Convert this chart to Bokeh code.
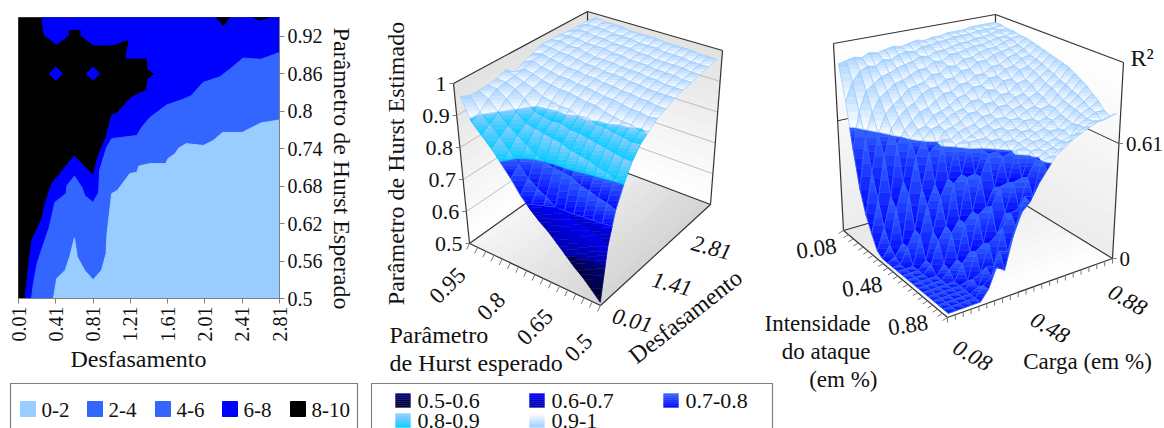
import math
from bokeh.plotting import figure
from bokeh.layouts import row, column
from bokeh.models import Range1d, FixedTicker, ColumnDataSource
from bokeh.core.properties import value
from bokeh.embed import file_html
from bokeh.resources import INLINE

FONT = "Liberation Serif"
H = 428

# ---------- contour data (lag, Hurst) ----------
band_labels = ["0-2", "2-4", "4-6", "6-8", "8-10"]
band_colors = ["#99ccff", "#3366ff", "#3366ff", "#0000ff", "#000000"]
x_ticks = [0.01, 0.41, 0.81, 1.21, 1.61, 2.01, 2.41, 2.81]
y_ticks = [0.5, 0.56, 0.62, 0.68, 0.74, 0.8, 0.86, 0.92]
lim_0_2 = [(.385,.5),(.42,.532),(.51,.545),(.56,.567),(.61,.597),(.64,.567),(.72,.545),(.81,.53),(.90,.545),(.95,.572),(.96,.604),(1.01,.668),(1.07,.673),(1.205,.70),(1.28,.702),(1.30,.712),(1.42,.716),(1.59,.716),(1.615,.724),(1.69,.732),(1.73,.741),(1.81,.748),(1.995,.745),(2.10,.753),(2.20,.766),(2.41,.766),(2.61,.781),(2.81,.786)]
lim_2_4 = [(.26,.5),(.33,.56),(.45,.62),(.61,.65),(.82,.6),(.92,.68),(1.05,.71),(1.4,.74),(1.8,.78),(2.2,.81),(2.81,.84)]
lim_4_6 = [(.15,.5),(.17,.524),(.21,.556),(.28,.588),(.34,.614),(.40,.654),(.52,.668),(.53,.681),(.61,.696),(.69,.678),(.72,.665),(.81,.654),(.87,.67),(.88,.705),(.955,.742),(1.01,.756),(1.28,.761),(1.33,.774),(1.42,.79),(1.60,.81),(1.775,.819),(1.865,.825),(1.99,.846),(2.17,.855),(2.275,.867),(2.42,.885),(2.61,.883),(2.81,.894)]
lim_6_8 = [(.08,.5),(.117,.551),(.153,.593),(.26,.628),(.295,.652),(.367,.684),(.438,.697),(.606,.728),(.688,.716),(.81,.697),(.884,.737),(.948,.758),(1.01,.794),(1.06,.796),(1.22,.822),(1.383,.834),(1.40,.851),(1.47,.86),(1.40,.867),(1.39,.885),(1.162,.885),(1.198,.915),(1.01,.906),(.813,.906),(.68,.921),(.68,.931),(.545,.931),(.545,.921),(.42,.907),(.285,.922),(.26,.95)]
ilhas_6_8 = [[(.34,.86),(.41,.871),(.48,.86),(.41,.849)], [(.74,.86),(.81,.871),(.88,.86),(.81,.849)]]
ilhas_8_10 = [[(2.13,.95),(2.21,.937),(2.27,.95)], [(2.53,.95),(2.6,.946),(2.7,.95)]]

# ---------- surface 1: Hurst estimado, row = H esperado (0.5..0.95), col = lag (0.01..2.81) ----------
hurst_z = [
 [.50,.65,.74,.80,.85,.885,.905,.925,.935,.95,.955,.96,.965,.97,.975],
 [.525,.665,.75,.805,.85,.88,.895,.92,.935,.95,.955,.96,.965,.97,.975],
 [.55,.675,.755,.815,.855,.885,.905,.925,.94,.95,.955,.965,.97,.97,.975],
 [.57,.68,.765,.82,.86,.89,.905,.925,.94,.95,.96,.965,.97,.975,.98],
 [.595,.69,.77,.83,.865,.895,.91,.93,.945,.955,.96,.965,.97,.975,.98],
 [.62,.695,.785,.835,.87,.895,.915,.935,.945,.955,.965,.97,.97,.975,.98],
 [.645,.70,.79,.84,.875,.905,.925,.935,.95,.96,.965,.97,.975,.98,.98],
 [.665,.72,.79,.85,.875,.90,.925,.94,.95,.96,.965,.97,.975,.98,.985],
 [.69,.735,.80,.855,.885,.91,.93,.945,.955,.96,.97,.975,.98,.98,.985],
 [.72,.755,.81,.86,.88,.91,.935,.945,.955,.965,.97,.975,.98,.985,.985],
 [.76,.785,.83,.865,.885,.915,.935,.95,.96,.965,.97,.98,.98,.985,.985],
 [.795,.82,.85,.87,.89,.92,.94,.95,.96,.97,.975,.98,.985,.985,.99],
 [.83,.85,.87,.895,.92,.935,.945,.955,.965,.975,.98,.98,.985,.99,.99],
 [.86,.88,.90,.925,.94,.945,.955,.96,.97,.975,.98,.985,.99,.99,.99],
 [.89,.905,.93,.945,.95,.955,.96,.97,.975,.98,.985,.985,.99,.99,.995],
 [.958,.945,.945,.947,.951,.963,.94,.957,.968,.98,.98,.98,.975,.975,.975],
]
hurst_bands = [.5, .6, .7, .8, .9, 1.01]
hurst_labels = ["0.5-0.6", "0.6-0.7", "0.7-0.8", "0.8-0.9", "0.9-1"]
hurst_top = ["#000080", "#0000ff", "#3366ff", "#99ccff", "#a8d2ff"]
hurst_bot = ["#000028", "#0000a0", "#0000ff", "#00ccff", "#ffffff"]
hurst_line = ["#000060", "#0000e0", "#3366ff", "#00ccff", "#99ccff"]

# ---------- surface 2: R2, list per carga (0.08..0.88), item per intensidade (0.08..0.88) ----------
r2_z = [
 [.93,.74,.50,.30,.18,.10,.03,.01,.01,.01,.01,.01,.01,.01,.01,.01,.01,.01,.01,.01,.01],
 [.94,.84,.69,.57,.40,.27,.14,.07,.03,.01,.01,.01,.01,.01,.01,.01,.01,.01,.01,.01,.01],
 [.95,.89,.80,.70,.60,.50,.30,.25,.09,.09,.01,.01,.01,.01,.01,.01,.01,.01,.01,.01,.01],
 [.94,.91,.83,.77,.70,.64,.57,.39,.34,.17,.16,.05,.05,.01,.01,.01,.01,.01,.01,.01,.01],
 [.96,.90,.86,.80,.74,.69,.64,.61,.53,.38,.31,.19,.16,.06,.05,.01,.01,.01,.01,.01,.01],
 [.95,.93,.87,.83,.77,.73,.68,.65,.62,.56,.41,.36,.23,.21,.09,.09,.02,.05,.03,.06,.06],
 [.96,.92,.89,.84,.81,.75,.72,.66,.66,.60,.64,.45,.44,.27,.27,.14,.16,.07,.12,.09,.16],
 [.97,.94,.90,.86,.82,.79,.73,.71,.67,.66,.63,.62,.48,.48,.32,.32,.19,.21,.11,.21,.13],
 [.96,.95,.91,.88,.83,.81,.76,.72,.70,.67,.66,.63,.64,.49,.49,.35,.37,.24,.30,.19,.29],
 [.97,.94,.93,.88,.86,.81,.79,.74,.72,.69,.67,.65,.64,.60,.60,.44,.46,.34,.36,.31,.40],
 [.98,.96,.92,.91,.86,.84,.79,.77,.73,.72,.68,.67,.64,.64,.60,.59,.47,.49,.37,.45,.44],
 [.97,.96,.94,.90,.89,.84,.82,.78,.76,.72,.71,.68,.67,.64,.64,.60,.63,.50,.52,.44,.52],
 [.98,.97,.94,.93,.88,.87,.82,.81,.76,.75,.71,.70,.67,.67,.64,.64,.63,.63,.60,.61,.58],
 [.98,.97,.95,.93,.91,.87,.85,.81,.80,.75,.74,.70,.70,.67,.67,.65,.65,.63,.63,.62,.64],
 [.99,.98,.96,.94,.91,.90,.85,.84,.79,.78,.74,.73,.70,.70,.67,.67,.65,.65,.64,.64,.67],
 [.99,.98,.96,.95,.93,.90,.88,.84,.83,.78,.77,.74,.73,.70,.70,.68,.68,.66,.66,.67,.70],
 [.99,.98,.97,.95,.94,.92,.88,.87,.83,.82,.78,.77,.74,.74,.71,.71,.68,.69,.67,.70,.72],
 [1.0,.99,.97,.96,.94,.93,.91,.88,.87,.83,.82,.79,.78,.75,.75,.73,.72,.71,.72,.72,.74],
 [1.0,.99,.98,.97,.96,.94,.92,.91,.88,.87,.85,.83,.82,.80,.78,.77,.76,.75,.74,.74,.755],
 [1.0,.99,.99,.97,.97,.95,.94,.92,.91,.90,.88,.87,.85,.84,.82,.81,.79,.77,.76,.73,.76],
 [1.0,1.0,.99,.99,.98,.98,.97,.96,.95,.94,.93,.92,.91,.89,.87,.85,.82,.795,.76,.74,.77],
]
r2_bands = [0, .61, 1.1]
r2_top = ["#3366ff", "#a8d2ff"]
r2_bot = ["#0000ff", "#ffffff"]
r2_line = ["#3366ff", "#99ccff"]

# ---------- view geometry (picture pixels, y down) ----------
view_hurst = dict(F=(600, 305), R=(710, 204), L=(469, 243), B=(588, 158),
                  Ft=(599, 140), Rt=(722, 50), Lt=(453, 83), Bt=(587, 11))
view_r2 = dict(F=(947, 317), R=(1112, 258), L=(843, 230), B=(995, 186),
               Ft=(944, 112), Rt=(1123, 62), Lt=(833, 43), Bt=(995, 14))


def lerp(a, b, t):
    return a + (b - a) * t


def project(view, u, v, w):
    def bil(f, r, l, b):
        return [lerp(lerp(f[k], r[k], u), lerp(l[k], b[k], u), v) for k in (0, 1)]
    low = bil(view["F"], view["R"], view["L"], view["B"])
    up = bil(view["Ft"], view["Rt"], view["Lt"], view["Bt"])
    return lerp(low[0], up[0], w), lerp(low[1], up[1], w)


def clip(poly, k, lo, hi):
    def one(pts, inside, t_of):
        out = []
        for a, b in zip(pts, pts[1:] + pts[:1]):
            ia, ib = inside(a), inside(b)
            if ia:
                out.append(a)
            if ia != ib:
                t = t_of(a, b)
                out.append(tuple(lerp(a[m], b[m], t) for m in range(3)))
        return out
    p = one(poly, lambda q: q[k] >= lo, lambda a, b: (lo - a[k]) / (b[k] - a[k]))
    if p:
        p = one(p, lambda q: q[k] <= hi, lambda a, b: (hi - a[k]) / (b[k] - a[k]))
    return p


def hex2(c):
    return [int(c[i:i + 2], 16) for i in (1, 3, 5)]


def mix(c1, c2, t):
    a, b = hex2(c1), hex2(c2)
    return "#%02x%02x%02x" % tuple(round(lerp(x, y, t)) for x, y in zip(a, b))


def new_store():
    return dict(xs=[], ys=[], fc=[], lc=[], fa=[], lw=[])


def add(d, xs, ys, fc, lc, fa, lw):
    d["xs"].append(list(xs)); d["ys"].append([H - y for y in ys])
    d["fc"].append(fc); d["lc"].append(lc); d["fa"].append(fa); d["lw"].append(lw)


def surface(view, grid, us, vs, wf, bands, tops, bots, lines):
    """grid[a][b] with us[b], vs[a]."""
    quads = []
    for a in range(len(grid) - 1):
        for b in range(len(grid[0]) - 1):
            quads.append((-(us[b] + us[b + 1] + vs[a] + vs[a + 1]), a, b))
    quads.sort()
    d = new_store()
    for _, a, b in quads:
        poly = []
        for (aa, bb) in ((a, b), (a, b + 1), (a + 1, b + 1), (a + 1, b)):
            z = grid[aa][bb]
            x, y = project(view, us[bb], vs[aa], wf(z))
            poly.append((x, y, z))
        for n in range(len(bands) - 1):
            piece = clip(poly, 2, bands[n], bands[n + 1])
            if len(piece) < 3:
                continue
            ys_ = [q[1] for q in piece]
            y0, y1 = min(ys_), max(ys_)
            m = max(1, min(6, int((y1 - y0) / 2.5)))
            for s in range(m):
                sl = clip(piece, 1, y0 + (y1 - y0) * s / m, y0 + (y1 - y0) * (s + 1) / m)
                if len(sl) < 3:
                    continue
                c = mix(tops[n], bots[n], (s + .5) / m)
                add(d, [q[0] for q in sl], [q[1] for q in sl], c, c, 1.0, .4)
            add(d, [q[0] for q in piece], [q[1] for q in piece], lines[n], lines[n], 0.0, .7)
    return d


def strips(view, c0, c1, d, n=14):
    def quad(pa, pb, pc, pd, ca, cb):
        for s in range(n):
            t0, t1 = s / n, (s + 1) / n
            xs = [lerp(pa[0], pd[0], t0), lerp(pb[0], pc[0], t0), lerp(pb[0], pc[0], t1), lerp(pa[0], pd[0], t1)]
            ys = [lerp(pa[1], pd[1], t0), lerp(pb[1], pc[1], t0), lerp(pb[1], pc[1], t1), lerp(pa[1], pd[1], t1)]
            c = mix(ca, cb, (s + .5) / n)
            add(d, xs, ys, c, c, 1.0, .6)
    quad(view["Lt"], view["Bt"], view["B"], view["L"], c0[0], c0[1])
    quad(view["Bt"], view["Rt"], view["R"], view["B"], c0[0], c0[1])
    quad(view["L"], view["B"], view["R"], view["F"], c1[0], c1[1])


# ---------- left figure: contour ----------
p1 = figure(width=325, height=346, x_range=Range1d(0.01, 2.81), y_range=Range1d(0.5, 0.95),
            toolbar_location=None, output_backend="svg", y_axis_location="right",
            min_border_left=18, min_border_top=17, min_border_right=45, min_border_bottom=48,
            outline_line_color="#808080")
p1.grid.visible = False


def area(boundary, closed_top=False):
    xs = [q[0] for q in boundary]
    ys = [q[1] for q in boundary]
    if closed_top:
        return xs + [2.81, 2.81], ys + [.95, .5]
    return xs + [2.81], ys + [.5]


p1.patch([.01, 2.81, 2.81, .01], [.5, .5, .95, .95], color=band_colors[4])
ax, ay = area(lim_6_8, True)
p1.patch(ax, ay, color=band_colors[3])
for poly in ilhas_6_8:
    p1.patch([q[0] for q in poly], [q[1] for q in poly], color=band_colors[3])
for poly in ilhas_8_10:
    p1.patch([q[0] for q in poly], [q[1] for q in poly], color=band_colors[4])
ax, ay = area(lim_4_6)
p1.patch(ax, ay, color=band_colors[2])
ax, ay = area(lim_2_4)
p1.patch(ax, ay, color=band_colors[1])
ax, ay = area(lim_0_2)
p1.patch(ax, ay, color=band_colors[0])

for ax_ in (p1.xaxis[0], p1.yaxis[0]):
    ax_.axis_line_color = "#808080"
    ax_.major_tick_line_color = "#808080"
    ax_.minor_tick_line_color = None
    ax_.major_tick_out = 5
    ax_.major_tick_in = 0
    ax_.major_label_text_font = FONT
    ax_.major_label_text_font_size = "20px"
    ax_.major_label_text_color = "#111111"
    ax_.major_label_standoff = 3
p1.xaxis[0].ticker = FixedTicker(ticks=x_ticks)
p1.yaxis[0].ticker = FixedTicker(ticks=y_ticks)
p1.xaxis[0].major_label_overrides = {t: str(t) for t in x_ticks}
p1.yaxis[0].major_label_overrides = {t: str(t) for t in y_ticks}
p1.xaxis[0].major_label_orientation = math.pi / 2


def plain_figure(w, h, xr, yr):
    f = figure(width=w, height=h, x_range=Range1d(*xr), y_range=Range1d(*yr),
               toolbar_location=None, output_backend="svg", outline_line_color=None, min_border=0)
    f.axis.visible = False
    f.grid.visible = False
    return f


def seg(p, a, b, color="#333333", w=1.2):
    p.line([a[0], b[0]], [H - a[1], H - b[1]], line_color=color, line_width=w)


def texts(p, xs, ys, labels, size="20px", angle=0, align="center", style="normal"):
    p.text(list(xs), [H - y for y in ys], text=labels, text_font=value(FONT), text_font_size=size, text_align=align,
           text_baseline="middle", angle=angle, text_color="#111111", text_font_style=style)


def draw(p, d):
    p.patches("xs", "ys", fill_color="fc", fill_alpha="fa", line_color="lc", line_width="lw", source=ColumnDataSource(d))


# ---- y axis title beside the contour ----
pv = plain_figure(45, 346, (325, 370), (H - 346, H))
texts(pv, [341], [168], ["Parâmetro de Hurst Esperado"], size="24px", angle=-math.pi / 2)

# ---- x axis title and legend under the contour ----
pl = plain_figure(370, 82, (0, 370), (0, H - 346))
texts(pl, [138], [358], ["Desfasamento"], size="24px")
pl.line([10, 10, 357, 357], [H - 428, H - 383, H - 383, H - 428], line_color="#808080", line_width=1.2)
leg1_x = [20, 87, 155, 222, 290]
pl.quad(left=leg1_x, right=[x + 15 for x in leg1_x], bottom=[H - 416] * 5, top=[H - 401] * 5, color=band_colors)
texts(pl, [x + 21 for x in leg1_x], [409] * 5, band_labels, size="21px", align="left")

# ---------- right figure: the two surfaces ----------
p2 = plain_figure(794, 428, (370, 1164), (0, H))

# ---- Hurst box ----
V = view_hurst
V2 = view_r2
bg = new_store()
strips(V, ("#e2e2e2", "#ffffff"), ("#f6f6f6", "#d4d4d4"), bg)
strips(V2, ("#ffffff", "#ececec"), ("#e8e8e8", "#ffffff"), bg)
draw(p2, bg)

hurst_marks = [.5, .6, .7, .8, .9, 1]
for z in hurst_marks[1:-1]:
    w = (z - .5) / .5
    a, b, c = project(V, 0, 1, w), project(V, 1, 1, w), project(V, 1, 0, w)
    seg(p2, a, b, "#bdbdbd", 1)
    seg(p2, b, c, "#bdbdbd", 1)
box_edges = (("L", "Lt"), ("Lt", "Bt"), ("Bt", "Rt"), ("Rt", "R"), ("L", "B"), ("B", "R"), ("F", "L"), ("F", "R"), ("B", "Bt"))
for a, b in box_edges:
    seg(p2, V[a], V[b])

hurst_n = len(hurst_z)
lag_n = len(hurst_z[0])
for i in range(hurst_n + 1):
    x, y = project(V, 0, i / hurst_n, 0)
    seg(p2, (x, y), (x - 3, y + 6), "#777777", 1)
for z in hurst_marks:
    x, y = project(V, 0, 1, (z - .5) / .5)
    seg(p2, (x, y), (x - 4, y), "#777777", 1)

us = [(j + .3) / (lag_n - 1 + .6) for j in range(lag_n)]
vs = [(i + .3) / (hurst_n - 1 + .6) for i in range(hurst_n)]
draw(p2, surface(V, hurst_z, us, vs, lambda z: (z - .5) / .5, hurst_bands, hurst_top, hurst_bot, hurst_line))

zt = [project(V, 0, 1, (z - .5) / .5) for z in hurst_marks]
texts(p2, [q[0] - 7 for q in zt], [q[1] for q in zt], [str(z) for z in hurst_marks], align="right", size="22px")
h_ticks = [.95, .8, .65, .5]
h_pos = [project(V, 0, (h - .5) / .45, 0) for h in h_ticks]
texts(p2, [q[0] - 22 for q in h_pos], [q[1] + 42 for q in h_pos], [str(h) for h in h_ticks], angle=math.radians(45), size="23px")
lag_ticks = [.01, 1.41, 2.81]
lag_pos = [project(V, .72 * (t - .01) / 2.8, 0, 0) for t in lag_ticks]
texts(p2, [q[0] + 32 for q in lag_pos], [q[1] + 15 for q in lag_pos], [str(t) for t in lag_ticks], angle=math.radians(-15), style="italic", size="23px")
texts(p2, [395], [163], ["Parâmetro de Hurst Estimado"], size="24px", angle=math.pi / 2)
texts(p2, [389], [334], ["Parâmetro"], size="24px", align="left")
texts(p2, [389], [362], ["de Hurst esperado"], size="24px", align="left")
texts(p2, [685], [316], ["Desfasamento"], size="24px", angle=math.radians(38))

# ---- R2 box ----
r2_marks = [0, .61]
r2_top_value = 1.04
for z in r2_marks[1:]:
    w = z / r2_top_value
    a, b, c = project(V2, 0, 1, w), project(V2, 1, 1, w), project(V2, 1, 0, w)
    seg(p2, a, b, "#333333", 1)
    seg(p2, b, c, "#333333", 1)
for a, b in box_edges:
    seg(p2, V2[a], V2[b])
r2_n = len(r2_z[0])
carga_n = len(r2_z)
for i in range(r2_n + 1):
    x, y = project(V2, 0, i / r2_n, 0)
    seg(p2, (x, y), (x - 5, y + 3), "#777777", 1)
    x, y = project(V2, i / r2_n, 0, 0)
    seg(p2, (x, y), (x, y + 5), "#777777", 1)
for z in r2_marks:
    x, y = project(V2, 1, 0, z / r2_top_value)
    seg(p2, (x, y), (x + 4, y), "#777777", 1)

r2_grid = [[r2_z[j][i] for j in range(carga_n)] for i in range(r2_n)]
us2 = [(j + .3) / (carga_n - 1 + .6) for j in range(carga_n)]
vs2 = [1 - (i + .3) / (r2_n - 1 + .6) for i in range(r2_n)]
draw(p2, surface(V2, r2_grid, us2, vs2, lambda z: z / r2_top_value, r2_bands, r2_top, r2_bot, r2_line))

zt2 = [project(V2, 1, 0, z / r2_top_value) for z in r2_marks]
texts(p2, [q[0] + 7 for q in zt2], [q[1] for q in zt2], [str(z) for z in r2_marks], align="left", size="21px")
texts(p2, [1130], [57], ["R²"], align="left", size="24px")
int_ticks = [.08, .48, .88]
int_pos = [project(V2, 0, 1 - (t - .08) / .8, 0) for t in int_ticks]
texts(p2, [843 - 27 + .88 * (q[0] - 843) for q in int_pos], [230 + 18 + .88 * (q[1] - 230) for q in int_pos],
      [str(t) for t in int_ticks], angle=math.radians(8), size="23px")
car_pos = [project(V2, (t - .08) / .8, 0, 0) for t in int_ticks]
texts(p2, [972 + .94 * (q[0] - 947) for q in car_pos], [355 + .94 * (q[1] - 317) for q in car_pos],
      [str(t) for t in int_ticks], angle=math.radians(-30), style="italic", size="23px")
texts(p2, [870], [323], ["Intensidade"], size="23px", align="right")
texts(p2, [870], [351], ["do ataque"], size="23px", align="right")
texts(p2, [877], [379], ["(em %)"], size="23px", align="right")
texts(p2, [1087], [361], ["Carga (em %)"], size="23px")

# ---- legend of the surface ----
p2.line([371, 371, 772, 772], [H - 428, H - 383, H - 383, H - 428], line_color="#808080", line_width=1.2)
leg_x = [395, 529, 663, 395, 529]
leg_y = [393, 393, 393, 413, 413]
sw = new_store()
for n, (lx, ly) in enumerate(zip(leg_x, leg_y)):
    t0 = hurst_top[n] if n < 4 else "#ffffff"
    t1 = hurst_bot[n] if n < 4 else "#99ccff"
    for s in range(7):
        c = mix(t0, t1, (s + .5) / 7)
        add(sw, [lx, lx + 15, lx + 15, lx], [ly + 2 * s, ly + 2 * s, ly + 2 * s + 2, ly + 2 * s + 2], c, c, 1.0, .3)
draw(p2, sw)
texts(p2, [x + 22 for x in leg_x], [y + 7 for y in leg_y], hurst_labels, size="22px", align="left")

left = column(row(p1, column(pv, spacing=0), spacing=0), column(pl, spacing=0), spacing=0)
page = row(left, p2, spacing=0)
open("out.html", "w").write(file_html(page, INLINE))
